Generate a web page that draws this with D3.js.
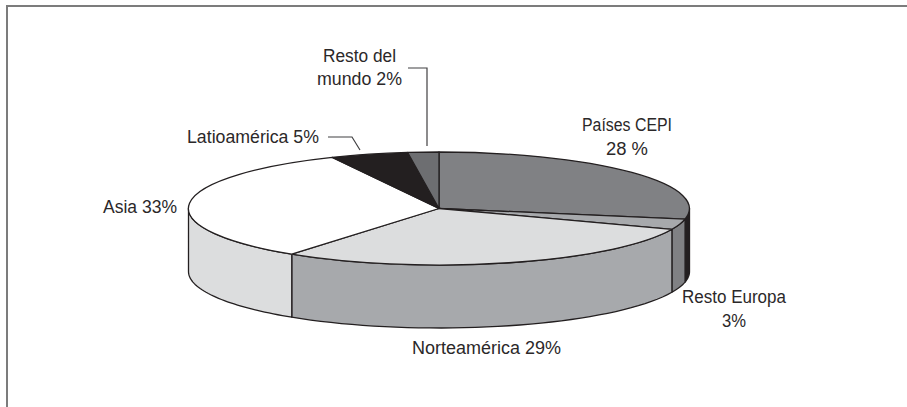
<!DOCTYPE html>
<html>
<head>
<meta charset="utf-8">
<script src="https://cdn.jsdelivr.net/npm/d3@7"></script>
<style>
    html, body { margin: 0; padding: 0; background: #fff; }
    svg { display: block; }
    text { font-family: "Liberation Sans", sans-serif; font-size: 17.5px; fill: #2b2829; text-anchor: middle; }
    .slice, .wall { stroke: #231f20; stroke-width: 1.3; stroke-linejoin: round; }
    .slice { vector-effect: non-scaling-stroke; }
    .leader { fill: none; stroke: #414042; stroke-width: 1.2; }
</style>
</head>
<body>
<svg width="907" height="407"></svg>
<script>
"use strict";

const categories = ["Países CEPI", "Resto Europa", "Norteamérica", "Asia", "Latioamérica", "Resto del mundo"];
const shares = [28, 3, 29, 33, 5, 2];
const topColors = ["#808184", "#a7a9ac", "#dcddde", "#ffffff", "#231f20", "#6d6e71"];
const wallColors = ["#231f20", "#808184", "#a7a9ac", "#dcddde", "#231f20", "#6d6e71"];

const width = 907,
    height = 407,
    cx = 439,
    cy = 208.5,
    rx = 250.5,
    ry = 56.5,
    depth = 63;

const svg = d3.select("svg");

// frame is only top and left in the scan
svg.append("path")
    .attr("d", `M7,${height}V6H${width}`)
    .attr("fill", "none")
    .attr("stroke", "#7c7c7c")
    .attr("stroke-width", 2);

const pie = d3.pie().sort(null).value(d => d)(shares);

// angle 0 is 12 o'clock, going clockwise, same as d3.arc
const ellipsePoint = (a, dy) => [cx + rx * Math.sin(a), cy - ry * Math.cos(a) + dy];

function wallPath(a0, a1) {
    const steps = d3.range(0, 41).map(i => a0 + (a1 - a0) * i / 40);
    const top = steps.map(a => ellipsePoint(a, 0));
    const bottom = steps.slice().reverse().map(a => ellipsePoint(a, depth));
    return d3.line()(top.concat(bottom)) + "Z";
}

// Walls, only the front half of the disc shows
const front = [Math.PI / 2, Math.PI * 3 / 2];
svg.append("g").selectAll("path")
    .data(pie.filter(d => d.startAngle < front[1] && d.endAngle > front[0]))
    .enter().append("path")
    .attr("class", "wall")
    .attr("fill", d => wallColors[d.index])
    .attr("d", d => wallPath(Math.max(d.startAngle, front[0]), Math.min(d.endAngle, front[1])));

// Top face, a unit pie squashed into an ellipse
const arc = d3.arc().innerRadius(0).outerRadius(1);
svg.append("g")
    .attr("transform", `translate(${cx},${cy}) scale(${rx},${ry})`)
    .selectAll("path")
    .data(pie)
    .enter().append("path")
    .attr("class", "slice")
    .attr("fill", d => topColors[d.index])
    .attr("d", arc);

// Leaders
const leaders = [
    [[408, 68], [427, 68], [427, 146]],
    [[328, 137], [352, 137], [360, 150]]
];
svg.selectAll(".leader")
    .data(leaders)
    .enter().append("path")
    .attr("class", "leader")
    .attr("d", d3.line());

// Labels: text, centre x, baseline y, width measured on the reference
const labelLines = [
    ["Resto del", 359.5, 62, 73],
    ["mundo 2%", 359.5, 85, 85],
    ["Latioamérica 5%", 253, 143, 132],
    ["Asia 33%", 140, 213, 74],
    ["Países CEPI", 627, 131, 90],
    ["28 %", 627, 155, 42],
    ["Resto Europa", 734, 303, 104],
    ["3%", 734, 327, 24],
    ["Norteamérica 29%", 486.5, 354, 149]
];
svg.selectAll("text")
    .data(labelLines)
    .enter().append("text")
    .attr("x", d => d[1])
    .attr("y", d => d[2])
    .attr("textLength", d => d[3])
    .attr("lengthAdjust", "spacingAndGlyphs")
    .text(d => d[0]);
</script>
</body>
</html>
